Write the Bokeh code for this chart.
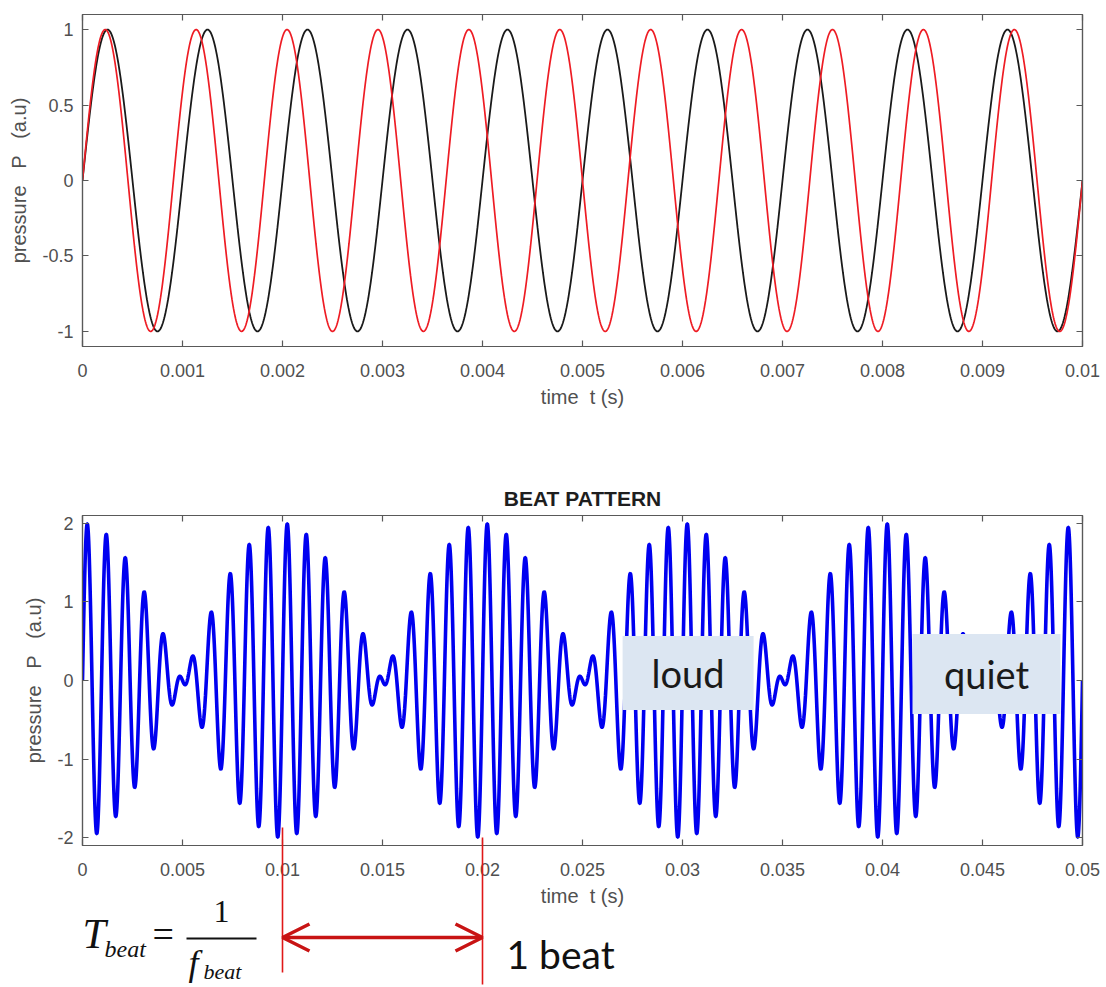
import numpy as np
from bokeh.plotting import figure
from bokeh.layouts import column
from bokeh.models import Range1d, FixedTicker, LinearAxis, Arrow, OpenHead, Title, Label
from bokeh.core.properties import value
from bokeh.embed import file_html
from bokeh.resources import INLINE

# ---------------- data ----------------
f_black = 1000.0      # Hz  (black tone, period 0.001 s)
f_red = 1100.0        # Hz  (red tone, period ~0.00091 s)
amp_black = 1.0
amp_red = 1.0
top_t_range = [0.0, 0.01]
beat_t_range = [0.0, 0.05]

top_xticks = [0, 0.001, 0.002, 0.003, 0.004, 0.005, 0.006, 0.007, 0.008, 0.009, 0.01]
top_xtick_labels = ["0", "0.001", "0.002", "0.003", "0.004", "0.005", "0.006", "0.007", "0.008", "0.009", "0.01"]
top_yticks = [-1, -0.5, 0, 0.5, 1]
top_ytick_labels = ["-1", "-0.5", "0", "0.5", "1"]

bot_xticks = [0, 0.005, 0.01, 0.015, 0.02, 0.025, 0.03, 0.035, 0.04, 0.045, 0.05]
bot_xtick_labels = ["0", "0.005", "0.01", "0.015", "0.02", "0.025", "0.03", "0.035", "0.04", "0.045", "0.05"]
bot_yticks = [-2, -1, 0, 1, 2]
bot_ytick_labels = ["-2", "-1", "0", "1", "2"]

note_labels = ["loud", "quiet"]
note_t = [0.03028, 0.0452]
note_p = [0.095, 0.083]
beat_marks = [0.01, 0.02]      # one beat period T_beat = 1/f_beat

# ---------------- curves ----------------
t_top = np.linspace(top_t_range[0], top_t_range[1], 2001)
p_black = amp_black * np.sin(2 * np.pi * f_black * t_top)
p_red = amp_red * np.sin(2 * np.pi * f_red * t_top)
t_bot = np.linspace(beat_t_range[0], beat_t_range[1], 6001)
p_sum = amp_black * np.sin(2 * np.pi * f_black * t_bot) + amp_red * np.sin(2 * np.pi * f_red * t_bot)

# ---------------- styling helpers ----------------
AX_COL = "#595959"
LBL_COL = "#505050"
FONT = "Liberation Sans"
XLABEL = "time\u00a0\u00a0t (s)"
YLABEL = "pressure\u00a0\u00a0 P\u00a0\u00a0 (a.u)"
BORDER_L, BORDER_R = 82, 20


def style_axes(p, xticks, xlabels, yticks, ylabels):
    p.xgrid.visible = False
    p.ygrid.visible = False
    p.outline_line_color = AX_COL
    p.outline_line_width = 1.2
    bx = p.below[0]
    ly = p.left[0]
    right = LinearAxis()
    above = LinearAxis()
    p.add_layout(right, "right")
    p.add_layout(above, "above")
    for ax in [bx, above]:
        ax.ticker = FixedTicker(ticks=xticks)
        ax.major_label_overrides = dict(zip(xticks, xlabels))
    for ax in [ly, right]:
        ax.ticker = FixedTicker(ticks=yticks)
        ax.major_label_overrides = dict(zip(yticks, ylabels))
    for ax in [bx, ly, right, above]:
        ax.axis_line_color = AX_COL
        ax.axis_line_width = 1.2
        ax.major_tick_line_color = AX_COL
        ax.major_tick_line_width = 1.2
        ax.major_tick_in = 6
        ax.major_tick_out = 0
        ax.minor_tick_line_color = None
        ax.major_label_text_font = FONT
        ax.major_label_text_font_size = "18px"
        ax.major_label_text_color = LBL_COL
        ax.axis_label_text_font = FONT
        ax.axis_label_text_font_size = "20px"
        ax.axis_label_text_font_style = "normal"
        ax.axis_label_text_color = LBL_COL
    for ax in [right, above]:
        ax.major_label_text_color = None
        ax.major_label_text_font_size = "1px"
        ax.major_label_standoff = 0
    bx.major_label_standoff = 17
    ly.major_label_standoff = 9
    bx.axis_label = XLABEL
    ly.axis_label = YLABEL
    bx.axis_label_standoff = 6
    ly.axis_label_standoff = 9


# ---------------- top: the two tones ----------------
top = figure(frame_width=1000, frame_height=332,
             x_range=Range1d(*top_t_range), y_range=Range1d(-1.1, 1.1),
             min_border_left=BORDER_L, min_border_right=BORDER_R, min_border_top=14, min_border_bottom=94,
             output_backend="svg", toolbar_location=None)
top.line(t_top, p_black, line_color="#1a1a1a", line_width=1.8)
top.line(t_top, p_red, line_color="#ee1c24", line_width=1.7)
style_axes(top, top_xticks, top_xtick_labels, top_yticks, top_ytick_labels)

# ---------------- bottom: beat pattern ----------------
bot = figure(frame_width=1000, frame_height=330,
             x_range=Range1d(*beat_t_range), y_range=Range1d(-2.1, 2.1),
             min_border_left=BORDER_L, min_border_right=BORDER_R, min_border_top=75, min_border_bottom=75,
             output_backend="svg", toolbar_location=None)
bot.line(t_bot, p_sum, line_color="#0000f0", line_width=3.6)
style_axes(bot, bot_xticks, bot_xtick_labels, bot_yticks, bot_ytick_labels)
bot.add_layout(Title(text="BEAT PATTERN", align="center", text_font=FONT,
                     text_font_size="21px", text_font_style="bold",
                     text_color="#1e1e1e", standoff=12), "above")
bot.rect(x=note_t, y=note_p, width=[131, 148], height=[74, 80],
         width_units="screen", height_units="screen",
         fill_color="#dce6f2", line_color=None)
bot.text(x=note_t, y=note_p, text=note_labels, text_align="center", text_baseline="middle",
         text_font=value("Lato"), text_font_size="38px", text_color="#1a1a1a")

# ---------------- annotation layer (beat period), overlapping the bottom axis area ----------------
frame_left_px, frame_w_px = BORDER_L, 1000
t_per_px = (beat_t_range[1] - beat_t_range[0]) / frame_w_px


def px2t(px):
    return beat_t_range[0] + (px - frame_left_px) * t_per_px


ann_top, ann_bot = 822, 987
ann = figure(frame_width=1000, frame_height=ann_bot - ann_top,
             x_range=bot.x_range, y_range=Range1d(ann_bot, ann_top),
             x_axis_type=None, y_axis_type=None,
             min_border_left=BORDER_L, min_border_right=BORDER_R, min_border_top=0, min_border_bottom=0,
             output_backend="svg", toolbar_location=None)
ann.outline_line_color = None
ann.background_fill_alpha = 0
ann.border_fill_alpha = 0
ann.xgrid.visible = False
ann.ygrid.visible = False
ann.margin = (-98, 0, 0, 0)

ann.segment(x0=beat_marks, y0=[827, 837], x1=beat_marks, y1=[972, 984],
            line_color="#e01818", line_width=1.6)
ann.add_layout(Arrow(start=OpenHead(size=27, line_color="#c81414", line_width=3.5),
                     end=OpenHead(size=27, line_color="#c81414", line_width=3.5),
                     x_start=beat_marks[0], y_start=937, x_end=beat_marks[1], y_end=937,
                     line_color="#c81414", line_width=3.5))

SERIF = "Liberation Serif"
formula = [
    # text, x(px), middle y(px), size, italic, align
    ("T", 82, 933, "42px", True, "left"),
    ("beat", 104, 948, "24px", True, "left"),
    ("=", 152, 933, "38px", False, "left"),
    ("1", 221, 911, "32px", False, "center"),
    ("f", 188, 962, "36px", True, "left"),
    ("beat", 203, 971, "22px", True, "left"),
]
for txt, xp, yp, size, ital, align in formula:
    ann.add_layout(Label(x=px2t(xp), y=yp, text=txt, text_font=SERIF, text_font_size=size,
                         text_font_style="italic" if ital else "normal", text_color="#111111",
                         text_baseline="middle", text_align=align))
ann.segment(x0=[px2t(186)], y0=[938], x1=[px2t(256)], y1=[938], line_color="#111111", line_width=2)
ann.text(x=[px2t(506)], y=[953], text=["1 beat"], text_font=value("Lato"),
         text_font_size="39px", text_color="#111111", text_baseline="middle")

page = column(top, bot, ann)
open("out.html", "w").write(file_html(page, INLINE))
